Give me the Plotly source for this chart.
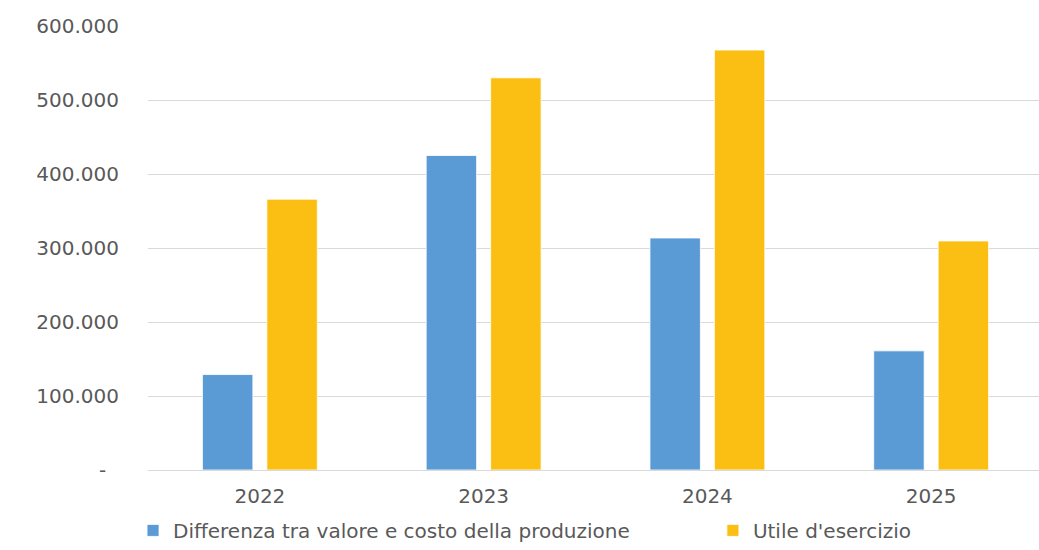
import plotly.graph_objects as go

years = ["2022", "2023", "2024", "2025"]
differenza = [129000, 425000, 313500, 161000]
utile = [366000, 530000, 567500, 309500]
series_names = ["Differenza tra valore e costo della produzione", "Utile d'esercizio"]
y_tickvals = [0, 100000, 200000, 300000, 400000, 500000, 600000]
y_ticktext = ["-\u00a0\u00a0", "100.000", "200.000", "300.000", "400.000", "500.000", "600.000"]

BLUE = "#5B9BD5"
GOLD = "#FBBF13"
TEXT = "#595959"
GRID = "#D9D9D9"
FONT = "DejaVu Sans"

fig = go.Figure()
fig.add_trace(go.Bar(x=years, y=differenza, name=series_names[0], legend="legend",
                     marker=dict(color=BLUE, line=dict(color="#FFFFFF", width=0.8))))
fig.add_trace(go.Bar(x=years, y=utile, name=series_names[1], legend="legend2",
                     marker=dict(color=GOLD, line=dict(color="#FFFFFF", width=0.8))))

legend_common = dict(orientation="h", xanchor="left", y=-0.18, yanchor="bottom",
                     font=dict(family=FONT, size=20, color=TEXT),
                     bgcolor="rgba(0,0,0,0)")

fig.update_layout(
    width=1039, height=550,
    margin=dict(l=148, r=0, t=26, b=80),
    paper_bgcolor="white", plot_bgcolor="white",
    barmode="group", bargap=0.424, bargroupgap=0.217,
    font=dict(family=FONT, size=20, color=TEXT),
    showlegend=True,
    legend=dict(x=-0.0168, **legend_common),
    legend2=dict(x=0.634, **legend_common),
    xaxis=dict(type="category", range=[-0.5, 3.482], showgrid=False,
               showline=False, ticks="", tickfont=dict(size=20, color=TEXT),
               ticklabelstandoff=12),
    yaxis=dict(range=[0, 600000], tickvals=y_tickvals, ticktext=y_ticktext,
               showgrid=True, gridcolor=GRID, gridwidth=1,
               zeroline=True, zerolinecolor=GRID, zerolinewidth=1,
               showline=False, ticks="", tickfont=dict(size=20, color=TEXT),
               ticklabelstandoff=28),
)

fig.write_html("out.html")
